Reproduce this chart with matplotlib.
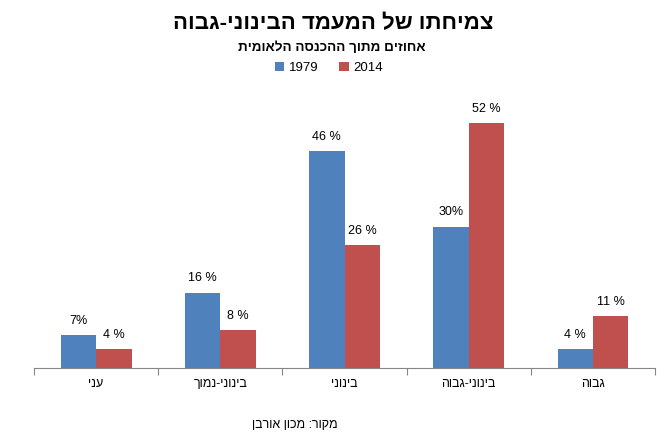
import matplotlib
matplotlib.use("Agg")
import matplotlib.pyplot as plt
import numpy as np

plt.rcParams['font.family'] = ['Liberation Sans', 'DejaVu Sans']

# נתונים
categories = ["עני", "בינוני-נמוך", "בינוני", "בינוני-גבוה", "גבוה"]
series_names = ["1979", "2014"]
values_1979 = [7, 16, 46, 30, 4]
values_2014 = [4, 8, 26, 52, 11]
labels_1979 = ["7%", "16 %", "46 %", "30%", "4 %"]
labels_2014 = ["4 %", "8 %", "26 %", "52 %", "11 %"]

title = "צמיחתו של המעמד הבינוני-גבוה"
subtitle = "אחוזים מתוך ההכנסה הלאומית"
source = "מקור: מכון אורבן"

BLUE = "#4F81BD"
RED = "#C0504D"


def rtl(s):
    # matplotlib has no bidi support, so flip Hebrew text for display
    return s[::-1]


fig = plt.figure(figsize=(6.67, 4.46), dpi=100)
ax = fig.add_axes([0.051, 0.175, 0.931, 0.634])

x = np.arange(len(categories))
w = 0.285
b1 = ax.bar(x - w / 2, values_1979, w, color=BLUE, label=series_names[0])
b2 = ax.bar(x + w / 2, values_2014, w, color=RED, label=series_names[1])

for bars, labs in [(b1, labels_1979), (b2, labels_2014)]:
    for bar, lab in zip(bars, labs):
        ax.annotate(lab, (bar.get_x() + bar.get_width() / 2, bar.get_height()),
                    xytext=(0, 6), textcoords="offset points",
                    ha="center", va="bottom", fontsize=9, color="black")

ax.set_xlim(-0.5, len(categories) - 0.5)
ax.set_ylim(0, 60)
ax.set_yticks([])
for side in ["left", "right", "top"]:
    ax.spines[side].set_visible(False)
ax.spines["bottom"].set_color("#868686")

# tick marks between categories, labels centered
ax.set_xticks(np.arange(len(categories) + 1) - 0.5)
ax.set_xticklabels([])
ax.tick_params(axis="x", which="major", length=5, color="#868686", direction="out")
ax.set_xticks(x, minor=True)
ax.set_xticklabels([rtl(c) for c in categories], minor=True, fontsize=9)
ax.tick_params(axis="x", which="minor", length=0, pad=7)

fig.text(0.5, 0.947, rtl(title), ha="center", va="center",
         fontsize=16, fontweight="bold")
fig.text(0.498, 0.893, rtl(subtitle), ha="center", va="center",
         fontsize=9.7, fontweight="bold")

fig.legend(handles=[b1, b2], labels=series_names, loc="center",
           bbox_to_anchor=(0.493, 0.847), ncol=2, frameon=False,
           fontsize=9.5, handlelength=0.7, handleheight=0.7,
           handletextpad=0.35, columnspacing=1.6)

fig.text(0.442, 0.047, rtl(source), ha="center", va="center", fontsize=9)

plt.savefig("out.png", dpi=100)
